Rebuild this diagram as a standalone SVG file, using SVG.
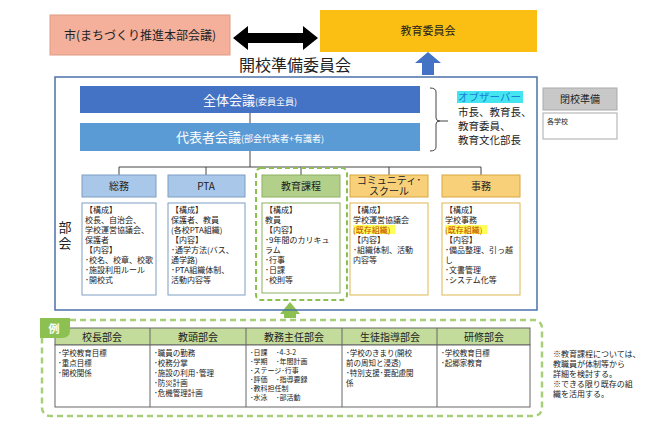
<svg xmlns="http://www.w3.org/2000/svg" width="650" height="425" viewBox="0 0 650 425">
<style>
text{font-family:"Noto Sans CJK JP","Noto Sans",sans-serif;fill:#222}
.s{font-size:8px}
.t{font-size:7.5px}
.u{font-size:7px}
.h{font-size:10px;text-anchor:middle}
.hb{fill:#a9c7e8;stroke:#7d9ec4}
.ho{fill:#f8d07a;stroke:#d8a840}
.cb{fill:#fff;stroke:#7d9ec4}
.co{fill:#fff;stroke:#e0b850}
.ln{stroke:#444;stroke-width:1;fill:none}
.hl{fill:#ffff55}
.th{fill:#c3dc9b;stroke:#666}
.td{fill:#fff;stroke:#666}
</style>
<rect width="650" height="425" fill="#fff"/>
<g id="city"><rect x="50" y="15" width="180" height="40" fill="#f4b09a" stroke="#e09a84"/><text x="140" y="40" font-size="12" text-anchor="middle">市(まちづくり推進本部会議)</text></g>
<g id="board"><rect x="320" y="10" width="217" height="42" fill="#fbbf13"/><text x="428" y="35" font-size="11" text-anchor="middle">教育委員会</text></g>
<g id="connectors">
<polygon points="233,38 248,26 248,33 303,33 303,26 318,38 303,50 303,43 248,43 248,50" fill="#000"/>
<polygon points="428,52 441,63 434,63 434,75 422,75 422,63 415,63" fill="#4472c4"/>
<path class="ln" d="M250 113V123M250 151V167M119 167H481M119 167V175M206 167V175M301 167V175M389 167V175M481 167V175"/>
<path class="ln" d="M430 88q6 0 6 4v26q0 3 4 3q-4 0-4 3v23q0 4-6 4M440 121H448"/>
<polygon points="290,302 300,314 296,314 296,318 284,318 284,314 280,314" fill="#8cc152"/>
</g>
<text x="295" y="71" font-size="16" text-anchor="middle">開校準備委員会</text>
<g id="committee"><rect x="55" y="77" width="482" height="233" fill="none" stroke="#4a72a8" stroke-width="1.5"/></g>
<g id="zentai"><rect x="80" y="86" width="340" height="27" fill="#4472c4"/><text x="250" y="105" font-size="13" text-anchor="middle" style="fill:#fff">全体会議<tspan font-size="9" style="fill:#fff">(委員全員)</tspan></text></g>
<g id="daihyo"><rect x="80" y="123" width="340" height="28" fill="#5b9bd5"/><text x="250" y="142" font-size="13" text-anchor="middle" style="fill:#fff">代表者会議<tspan font-size="9" style="fill:#fff">(部会代表者+有識者)</tspan></text></g>
<g id="observer"><rect x="457" y="91" width="66" height="12" fill="#44e5f0"/><text x="458" y="101" font-size="10.5" style="fill:#1a7fd4">オブザーバー</text><text font-size="10.5"><tspan x="458" y="116">市長、教育長、</tspan><tspan x="458" y="130">教育委員、</tspan><tspan x="458" y="144">教育文化部長</tspan></text></g>
<g id="legend"><rect x="543" y="88" width="74" height="22" fill="#c8c8c8" stroke="#aaa"/><text x="580" y="103" class="h" font-size="9">閉校準備</text><rect x="543" y="113" width="74" height="26" fill="#fff" stroke="#aaa"/><text x="547" y="124" font-size="7">各学校</text></g>
<text x="65" y="232" font-size="13" text-anchor="middle">部</text><text x="65" y="248" font-size="13" text-anchor="middle">会</text>
<g id="kyoiku-frame"><rect x="256" y="168" width="91" height="132" rx="5" fill="none" stroke="#8cc152" stroke-width="2" stroke-dasharray="5,3"/></g>
<g id="somu"><rect class="hb" x="82" y="175" width="74" height="22"/><text class="h" x="119" y="190">総務</text><rect class="cb" x="82" y="203" width="74" height="92"/><text class="s"><tspan x="85" y="213">【構成】</tspan><tspan x="85" y="223">校長、自治会、</tspan><tspan x="85" y="233">学校運営協議会、</tspan><tspan x="85" y="243">保護者</tspan><tspan x="85" y="253">【内容】</tspan><tspan x="85" y="263">･校名、校章、校歌</tspan><tspan x="85" y="273">･施設利用ルール</tspan><tspan x="85" y="283">･開校式</tspan></text></g>
<g id="pta"><rect class="hb" x="168" y="175" width="77" height="22"/><text class="h" x="206" y="190">PTA</text><rect class="cb" x="168" y="203" width="77" height="92"/><text class="s"><tspan x="171" y="213">【構成】</tspan><tspan x="171" y="223">保護者、教員</tspan><tspan x="171" y="233">(各校PTA組織)</tspan><tspan x="171" y="243">【内容】</tspan><tspan x="171" y="253">･通学方法(バス、</tspan><tspan x="171" y="263">通学路)</tspan><tspan x="171" y="273">･PTA組織体制、</tspan><tspan x="171" y="283">活動内容等</tspan></text></g>
<g id="kyoiku"><rect x="262" y="175" width="78" height="22" fill="#b3d08a" stroke="#8cb060"/><text class="h" x="301" y="190">教育課程</text><rect x="262" y="203" width="78" height="90" fill="#fff" stroke="#8cb060"/><text class="s"><tspan x="265" y="213">【構成】</tspan><tspan x="265" y="223">教員</tspan><tspan x="265" y="233">【内容】</tspan><tspan x="265" y="243">･9年間のカリキュ</tspan><tspan x="265" y="253">ラム</tspan><tspan x="265" y="263">･行事</tspan><tspan x="265" y="273">･日課</tspan><tspan x="265" y="283">･校則等</tspan></text></g>
<g id="community"><rect class="ho" x="350" y="175" width="78" height="22"/><text class="h" x="389" y="184" font-size="8">コミュニティ･</text><text class="h" x="389" y="195" font-size="8">スクール</text><rect class="co" x="350" y="203" width="78" height="92"/><rect class="hl" x="353" y="225" width="42" height="9"/><text class="s"><tspan x="353" y="213">【構成】</tspan><tspan x="353" y="223">学校運営協議会</tspan><tspan x="353" y="233" style="fill:#c04000">(既存組織)</tspan><tspan x="353" y="243">【内容】</tspan><tspan x="353" y="253">･組織体制、活動</tspan><tspan x="353" y="263">内容等</tspan></text></g>
<g id="jimu"><rect class="ho" x="442" y="175" width="78" height="22"/><text class="h" x="481" y="190">事務</text><rect class="co" x="442" y="203" width="78" height="92"/><rect class="hl" x="445" y="225" width="42" height="9"/><text class="s"><tspan x="445" y="213">【構成】</tspan><tspan x="445" y="223">学校事務</tspan><tspan x="445" y="233" style="fill:#c04000">(既存組織)</tspan><tspan x="445" y="243">【内容】</tspan><tspan x="445" y="253">･備品整理、引っ越</tspan><tspan x="445" y="263">し</tspan><tspan x="445" y="273">･文書管理</tspan><tspan x="445" y="283">･システム化等</tspan></text></g>
<g id="examples"><rect x="42" y="320" width="500" height="96" rx="8" fill="none" stroke="#a6cf78" stroke-width="2.5" stroke-dasharray="6,4"/>
<rect class="th" x="55" y="328" width="475" height="17"/><rect class="td" x="55" y="345" width="475" height="62"/>
<path d="M150 328V407M246 328V407M342 328V407M437 328V407" stroke="#666"/>
<path d="M40 318h30v12q0 8-8 8h-22z" fill="#8cc152"/><text x="54" y="333" font-size="11" text-anchor="middle" font-weight="bold" style="fill:#fff">例</text>
<text class="h" x="102" y="341">校長部会</text><text class="h" x="198" y="341">教頭部会</text><text class="h" x="294" y="341">教務主任部会</text><text class="h" x="390" y="341">生徒指導部会</text><text class="h" x="484" y="341">研修部会</text>
<text class="t"><tspan x="58" y="356">･学校教育目標</tspan><tspan x="58" y="366">･重点目標</tspan><tspan x="58" y="376">･開校関係</tspan></text>
<text class="t"><tspan x="154" y="356">･職員の勤務</tspan><tspan x="154" y="366">･校務分掌</tspan><tspan x="154" y="376">･施設の利用･管理</tspan><tspan x="154" y="386">･防災計画</tspan><tspan x="154" y="396">･危機管理計画</tspan></text>
<text class="u"><tspan x="250" y="355">･日課　 ･4-3-2</tspan><tspan x="250" y="364">･学期　 ･年間計画</tspan><tspan x="250" y="373">･ステージ･行事</tspan><tspan x="250" y="382">･評価　 ･指導要録</tspan><tspan x="250" y="391">･教科担任制</tspan><tspan x="250" y="400">･水泳　 ･部活動</tspan></text>
<text class="t"><tspan x="346" y="356">･学校のきまり(開校</tspan><tspan x="346" y="366">前の周知と浸透)</tspan><tspan x="346" y="376">･特別支援･要配慮関</tspan><tspan x="346" y="386">係</tspan></text>
<text class="t"><tspan x="441" y="356">･学校教育目標</tspan><tspan x="441" y="366">･起郷家教育</tspan></text></g>
<text class="s"><tspan x="553" y="357">※教育課程については、</tspan><tspan x="553" y="367">教職員が体制等から</tspan><tspan x="553" y="377">詳細を検討する。</tspan><tspan x="553" y="387">※できる限り既存の組</tspan><tspan x="553" y="397">織を活用する。</tspan></text>
</svg>
